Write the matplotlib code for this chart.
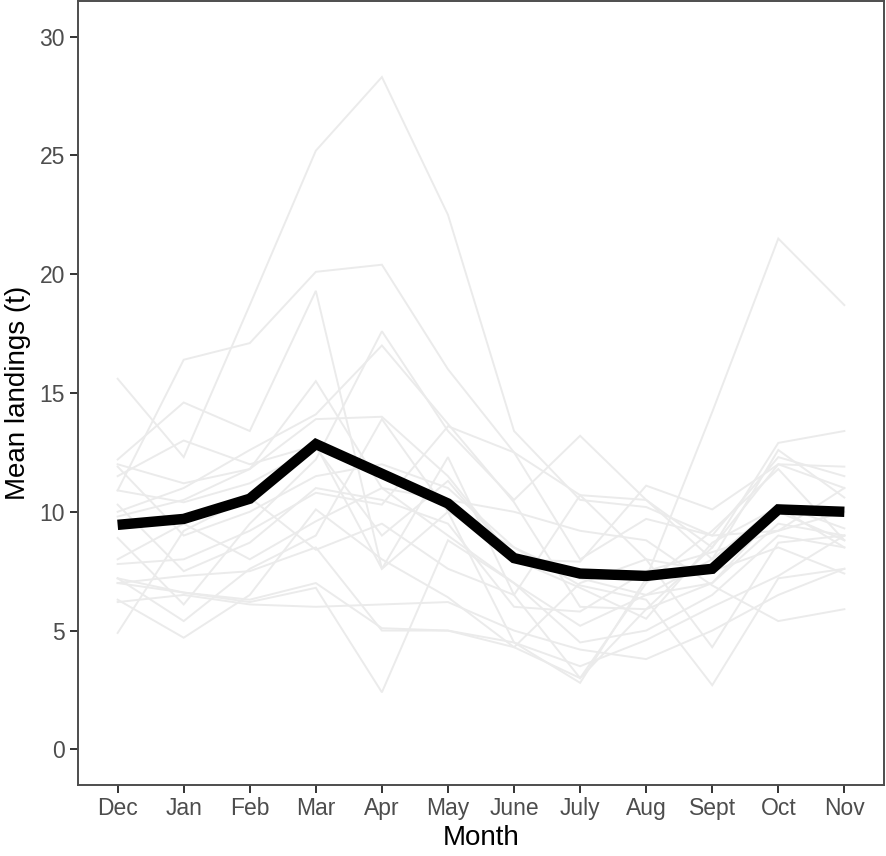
import matplotlib
matplotlib.use("Agg")
import matplotlib.pyplot as plt

plt.rcParams['font.family'] = ['Liberation Sans', 'DejaVu Sans']

months = ['Dec', 'Jan', 'Feb', 'Mar', 'Apr', 'May', 'June', 'July', 'Aug', 'Sept', 'Oct', 'Nov']

# mean landings across years (thick black line)
mean_landings = [9.45, 9.7, 10.55, 12.85, 11.6, 10.35, 8.05, 7.4, 7.3, 7.6, 10.1, 10.0]

# individual years (light grey lines)
year_01 = [15.6, 12.3, 18.7, 25.2, 28.3, 22.5, 13.4, 10.5, 10.2, 9.0, 12.3, 11.5]
year_02 = [10.9, 16.4, 17.1, 20.1, 20.4, 16.0, 12.5, 10.7, 10.5, 8.5, 12.0, 11.0]
year_03 = [12.2, 14.6, 13.4, 19.3, 7.6, 10.0, 8.5, 7.2, 6.5, 7.0, 9.5, 9.0]
year_04 = [7.2, 6.6, 6.3, 7.0, 5.1, 5.0, 4.5, 2.8, 7.2, 14.2, 21.5, 18.7]
year_05 = [7.0, 6.6, 6.2, 6.8, 2.4, 8.8, 7.0, 4.5, 5.0, 6.5, 9.0, 8.5]
year_06 = [12.0, 11.2, 11.8, 15.5, 11.0, 9.0, 7.0, 5.2, 6.5, 8.0, 12.6, 10.6]
year_07 = [10.0, 11.0, 12.6, 14.1, 17.0, 13.7, 10.4, 6.0, 5.9, 8.5, 12.9, 13.4]
year_08 = [9.8, 10.5, 11.8, 13.9, 14.0, 11.5, 8.0, 7.9, 11.1, 10.1, 12.0, 11.9]
year_09 = [8.9, 6.1, 9.5, 12.2, 17.6, 13.4, 10.5, 13.2, 10.5, 8.0, 10.3, 9.3]
year_10 = [6.3, 4.7, 6.5, 10.1, 8.0, 6.4, 4.3, 3.0, 5.9, 7.0, 10.0, 8.8]
year_11 = [11.9, 9.0, 10.0, 11.5, 12.0, 11.0, 8.5, 6.9, 6.3, 2.7, 7.2, 7.6]
year_12 = [7.8, 8.0, 9.2, 10.8, 10.3, 13.6, 12.5, 8.0, 9.7, 9.0, 9.2, 10.0]
year_13 = [4.9, 9.2, 10.6, 8.4, 9.5, 7.6, 6.5, 10.7, 8.0, 7.5, 8.5, 7.4]
year_14 = [7.2, 5.4, 7.6, 9.0, 13.9, 10.0, 4.5, 3.5, 4.6, 6.0, 7.3, 9.0]
year_15 = [10.3, 7.5, 8.7, 11.0, 10.5, 9.5, 6.0, 5.8, 7.5, 8.3, 9.2, 11.0]
year_16 = [6.2, 6.5, 6.1, 6.0, 6.1, 6.2, 5.0, 4.2, 3.8, 5.0, 6.5, 7.6]
year_17 = [8.0, 9.5, 8.0, 9.6, 11.0, 10.5, 10.0, 9.2, 8.8, 6.9, 5.4, 5.9]
year_18 = [10.9, 10.4, 11.2, 12.7, 9.0, 11.3, 8.0, 6.8, 5.5, 8.7, 10.2, 8.5]
year_19 = [11.5, 13.0, 12.0, 12.8, 7.6, 12.3, 6.5, 3.0, 7.0, 9.2, 11.8, 8.8]
year_20 = [7.0, 7.3, 7.5, 8.5, 5.0, 5.0, 4.3, 7.0, 8.0, 4.3, 8.7, 9.0]

years = [year_01, year_02, year_03, year_04, year_05, year_06, year_07,
         year_08, year_09, year_10, year_11, year_12, year_13, year_14,
         year_15, year_16, year_17, year_18, year_19, year_20]

fig = plt.figure(figsize=(8.86, 8.56), dpi=100)
ax = fig.add_axes([78 / 886, 1 - 785 / 856, 806 / 886, 784 / 856])

x = list(range(1, len(months) + 1))
for y in years:
    ax.plot(x, y, color='#EBEBEB', lw=1.4, solid_joinstyle='miter', zorder=1)
ax.plot(x, mean_landings, color='black', lw=7.5, solid_joinstyle='miter',
        solid_capstyle='butt', zorder=2)

ax.set_xlim(0.4, 12.6)
ax.set_ylim(-1.5, 31.5)
ax.set_xticks(x)
ax.set_xticklabels(months)
ax.set_yticks([0, 5, 10, 15, 20, 25, 30])

for s in ax.spines.values():
    s.set_color('#4D4D4D')
    s.set_linewidth(1.4)
ax.tick_params(axis='both', colors='#333333', length=5.5, width=1.4,
               labelsize=16.5, labelcolor='#4D4D4D')
ax.tick_params(axis='y', pad=4)
ax.tick_params(axis='x', pad=3)

ax.set_xlabel('Month', fontsize=20, labelpad=4)
ax.set_ylabel('Mean landings (t)', fontsize=20, labelpad=6)

fig.savefig('out.png', dpi=100)
